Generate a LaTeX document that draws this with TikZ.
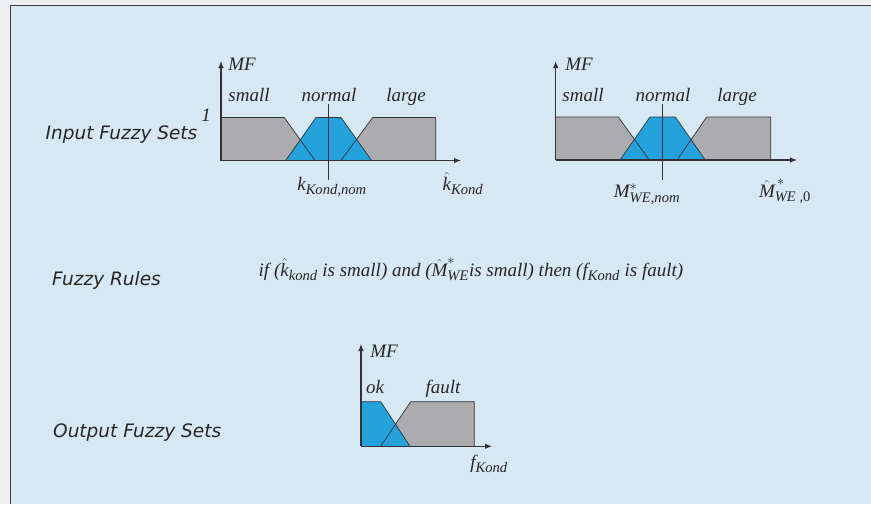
\documentclass[tikz,border=0pt]{standalone}
\usepackage{amsmath}
\usepackage{fontspec}
\setmainfont{Liberation Serif}
\newfontfamily\lblfont{DejaVu Sans}
\usetikzlibrary{arrows.meta}
\DeclareMathSizes{19}{19}{14.6}{10}
\definecolor{outer}{RGB}{238,241,244}
\definecolor{bg}{RGB}{216,232,243}
\definecolor{frame}{RGB}{55,62,72}
\definecolor{fzblue}{RGB}{36,162,220}
\definecolor{fzgray}{RGB}{172,172,175}
\definecolor{edge}{RGB}{50,50,55}
\tikzset{
  axisline/.style={draw=edge, line width=1.1pt, -{Latex[length=7pt,width=5.5pt]}},
  setedge/.style={draw=edge, line width=0.7pt, line join=round},
  grayset/.style={fill=fzgray},
  blueset/.style={fill=fzblue},
  nomline/.style={draw=edge, line width=0.8pt},
  mflbl/.style={font=\fontsize{19}{21}\selectfont\itshape, inner sep=0pt, anchor=base, text=black!85},
  sectlbl/.style={font=\lblfont\itshape\fontsize{18.5}{20}\selectfont, inner sep=0pt, anchor=base west, text=black!85},
}
\begin{document}
\begin{tikzpicture}[x=1pt,y=-1pt]
\useasboundingbox (0,0) rectangle (871,504);
\fill[outer] (0,0) rectangle (871,504);
\fill[bg] (10.7,5.7) rectangle (871,504);
\draw[frame, line width=1.4pt] (10.7,504) -- (10.7,5.7) -- (871,5.7);

% ---------- section labels
\node[sectlbl] (lin) at (45.5,139.3) {Input Fuzzy Sets};
\node[sectlbl] (lrule) at (52,285.4) {Fuzzy Rules};
\node[sectlbl] (lout) at (53,437) {Output Fuzzy Sets};

% ---------- chart 1
\coordinate (o1) at (221,160.5);
\coordinate (y1) at (221,61);
\coordinate (x1) at (461,160.5);
\fill[grayset] (221,117.5) -- (284.3,117.5) -- (315,160.5) -- (221,160.5) -- cycle;
\fill[grayset] (341,160.5) -- (372.7,117.5) -- (435.7,117.5) -- (435.7,160.5) -- cycle;
\fill[blueset] (285.7,160.5) -- (316,117.5) -- (341,117.5) -- (371.7,160.5) -- cycle;
\draw[setedge] (221,117.5) -- (284.3,117.5) -- (315,160.5);
\draw[setedge] (285.7,160.5) -- (316,117.5) -- (341,117.5) -- (371.7,160.5);
\draw[setedge] (341,160.5) -- (372.7,117.5) -- (435.7,117.5) -- (435.7,160.5);
\coordinate (n1t) at (328.3,104);
\coordinate (n1b) at (328.3,180);
\draw[nomline] (n1t) -- (n1b);
\draw[axisline] (o1) -- (y1);
\draw[axisline] (o1) -- (x1);
\node[mflbl] (mf1) at (242,70.7) {MF};
\node[mflbl] (one1) at (206,121) {1};
\node[mflbl] (s1) at (249,101) {small};
\node[mflbl] (nm1) at (329,101) {normal};
\node[mflbl] (lg1) at (406,101) {large};
\node[mflbl] (k1) at (332,190) {$\text{k}_{\text{Kond,nom}}$};
\node[mflbl] (kh1) at (463,190) {$\hat{\text{k}}_{\text{Kond}}$};

% ---------- chart 2
\coordinate (o2) at (555.7,160);
\coordinate (y2) at (555.7,61);
\coordinate (x2) at (797,160);
\fill[grayset] (555.7,117) -- (618.3,117) -- (649.3,160) -- (555.7,160) -- cycle;
\fill[grayset] (677,160) -- (706.7,117) -- (770.7,117) -- (770.7,160) -- cycle;
\fill[blueset] (620,160) -- (650,117) -- (675.3,117) -- (705.3,160) -- cycle;
\draw[setedge] (555.7,117) -- (618.3,117) -- (649.3,160);
\draw[setedge] (620,160) -- (650,117) -- (675.3,117) -- (705.3,160);
\draw[setedge] (677,160) -- (706.7,117) -- (770.7,117) -- (770.7,160);
\coordinate (n2t) at (662.7,104);
\coordinate (n2b) at (662.7,180);
\draw[nomline] (n2t) -- (n2b);
\draw[axisline] (o2) -- (y2);
\draw[axisline] (o2) -- (x2);
\node[mflbl] (mf2) at (579,70.7) {MF};
\node[mflbl] (s2) at (583,101.5) {small};
\node[mflbl] (nm2) at (663,101.5) {normal};
\node[mflbl] (lg2) at (737,101.5) {large};
\node[mflbl] (m2) at (647,197) {$\text{M}^{*}_{\text{WE,nom}}$};
\node[mflbl] (mh2) at (785,197) {$\hat{\text{M}}^{\,*}_{\text{WE ,\upshape 0}}$};

% ---------- fuzzy rule
\node[mflbl] (rule) at (471,276) {if ($\hat{\text{k}}_{\text{kond}}$ is small) and ($\hat{\text{M}}^{*}_{\text{WE}}$is small) then ($\text{f}_{\text{Kond}}$ is fault)};

% ---------- output chart
\coordinate (o3) at (361,446.3);
\coordinate (y3) at (361,344);
\coordinate (x3) at (492,446.3);
\fill[grayset] (380.7,446.3) -- (410.7,401.7) -- (474.3,401.7) -- (474.3,446.3) -- cycle;
\fill[blueset] (361,401.7) -- (380.7,401.7) -- (410,446.3) -- (361,446.3) -- cycle;
\draw[setedge] (361,401.7) -- (380.7,401.7) -- (410,446.3);
\draw[setedge] (380.7,446.3) -- (410.7,401.7) -- (474.3,401.7) -- (474.3,446.3);
\draw[axisline] (o3) -- (y3);
\draw[axisline] (o3) -- (x3);
\node[mflbl] (mf3) at (384,357) {MF};
\node[mflbl] (ok3) at (375,393) {ok};
\node[mflbl] (ft3) at (443,393) {fault};
\node[mflbl] (f3) at (489,468) {$\text{f}_{\text{Kond}}$};
\end{tikzpicture}
\end{document}
